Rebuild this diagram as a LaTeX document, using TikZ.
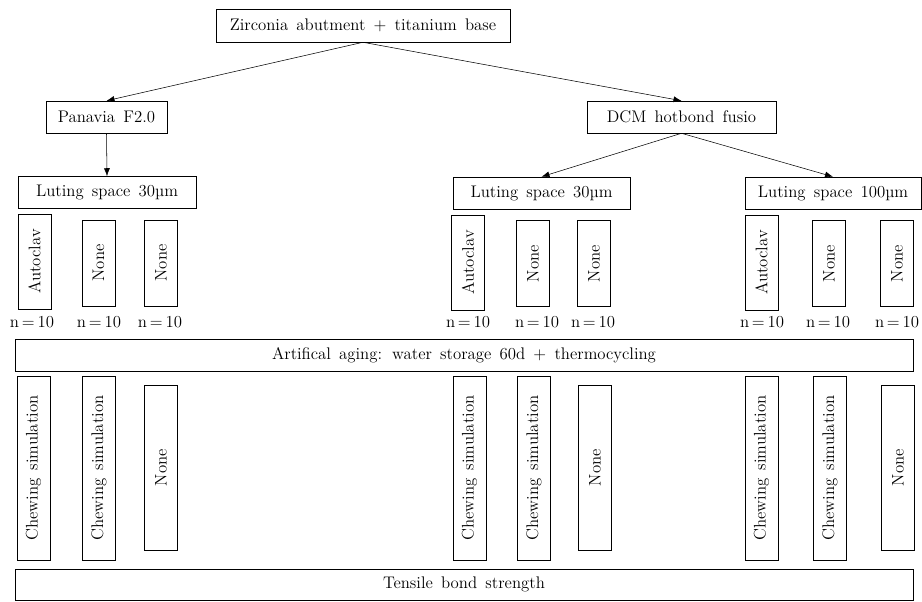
\documentclass[tikz,border=0pt]{standalone}
\usepackage{fontspec}
\setmainfont{Latin Modern Roman}[WordSpace=1.5]
\usetikzlibrary{arrows.meta}
\tikzset{
  box/.style={draw, inner sep=0pt, minimum height=24pt},
  vbox/.style={draw, inner sep=0pt, rotate=90, minimum height=24.5pt},
  arr/.style={-{Latex[length=6pt,width=4.5pt]}},
}
\begin{document}
\begin{tikzpicture}[x=0.75pt, y=-0.75pt, font=\fontsize{12.6}{15}\selectfont]
  \useasboundingbox (0,0) rectangle (922,601);

  \node[box, minimum width=220.5pt, minimum height=24.75pt] (base) at (363,25.5) {Zirconia abutment + titanium base};
  \node[box, minimum width=90.75pt] (panavia) at (106.5,117) {Panavia F2.0};
  \node[box, minimum width=141.75pt] (dcm) at (681.5,117) {DCM hotbond fusio};

  \node[box, minimum width=133.5pt] (lutA) at (107,192.5) {Luting space 30µm};
  \node[box, minimum width=132.75pt] (lutB) at (541.5,193) {Luting space 30µm};
  \node[box, minimum width=132pt] (lutC) at (833,193) {Luting space 100µm};

  \draw[arr] (base.south) -- (panavia.north);
  \draw[arr] (base.south) -- (dcm.north);
  \draw[arr] (panavia.south) -- (lutA.north);
  \draw[arr] (dcm.south) -- (lutB.north);
  \draw[arr] (dcm.south) -- (lutC.north);

  \node[vbox, minimum width=71pt] (autoA) at (34.5,261.5) {Autoclav};
  \node[vbox, minimum width=64.5pt] (noneA1) at (98.5,263) {None};
  \node[vbox, minimum width=64.5pt] (noneA2) at (161,263) {None};
  \node[vbox, minimum width=71pt] (autoB) at (468,262.5) {Autoclav};
  \node[vbox, minimum width=64.5pt] (noneB1) at (533,263.5) {None};
  \node[vbox, minimum width=64.5pt] (noneB2) at (594,263.5) {None};
  \node[vbox, minimum width=71pt] (autoC) at (761.5,262.5) {Autoclav};
  \node[vbox, minimum width=64.5pt] (noneC1) at (829,263.5) {None};
  \node[vbox, minimum width=64.5pt] (noneC2) at (897,263.5) {None};

  \node (nA1) at (32,322) {n\,=\,10};
  \node (nA2) at (99,322) {n\,=\,10};
  \node (nA3) at (160,322) {n\,=\,10};
  \node (nB1) at (468,322) {n\,=\,10};
  \node (nB2) at (537,322) {n\,=\,10};
  \node (nB3) at (593,322) {n\,=\,10};
  \node (nC1) at (762,322) {n\,=\,10};
  \node (nC2) at (828,322) {n\,=\,10};
  \node (nC3) at (897,322) {n\,=\,10};

  \node[box, minimum width=673.5pt] (aging) at (464,355) {Artifical aging: water storage 60d + thermocycling};

  \node[vbox, minimum width=138pt] (chewA1) at (33.5,468) {Chewing simulation};
  \node[vbox, minimum width=138pt] (chewA2) at (99,468) {Chewing simulation};
  \node[vbox, minimum width=124pt] (restA) at (161,467.5) {None};
  \node[vbox, minimum width=138pt] (chewB1) at (469.5,468) {Chewing simulation};
  \node[vbox, minimum width=138pt] (chewB2) at (534,468) {Chewing simulation};
  \node[vbox, minimum width=124pt] (restB) at (595,467.5) {None};
  \node[vbox, minimum width=138pt] (chewC1) at (761.5,468) {Chewing simulation};
  \node[vbox, minimum width=138pt] (chewC2) at (830,468) {Chewing simulation};
  \node[vbox, minimum width=124pt] (restC) at (898,467.5) {None};

  \node[box, minimum width=673.5pt, minimum height=23.25pt] (tensile) at (464,584.5) {Tensile bond strength};
\end{tikzpicture}
\end{document}
